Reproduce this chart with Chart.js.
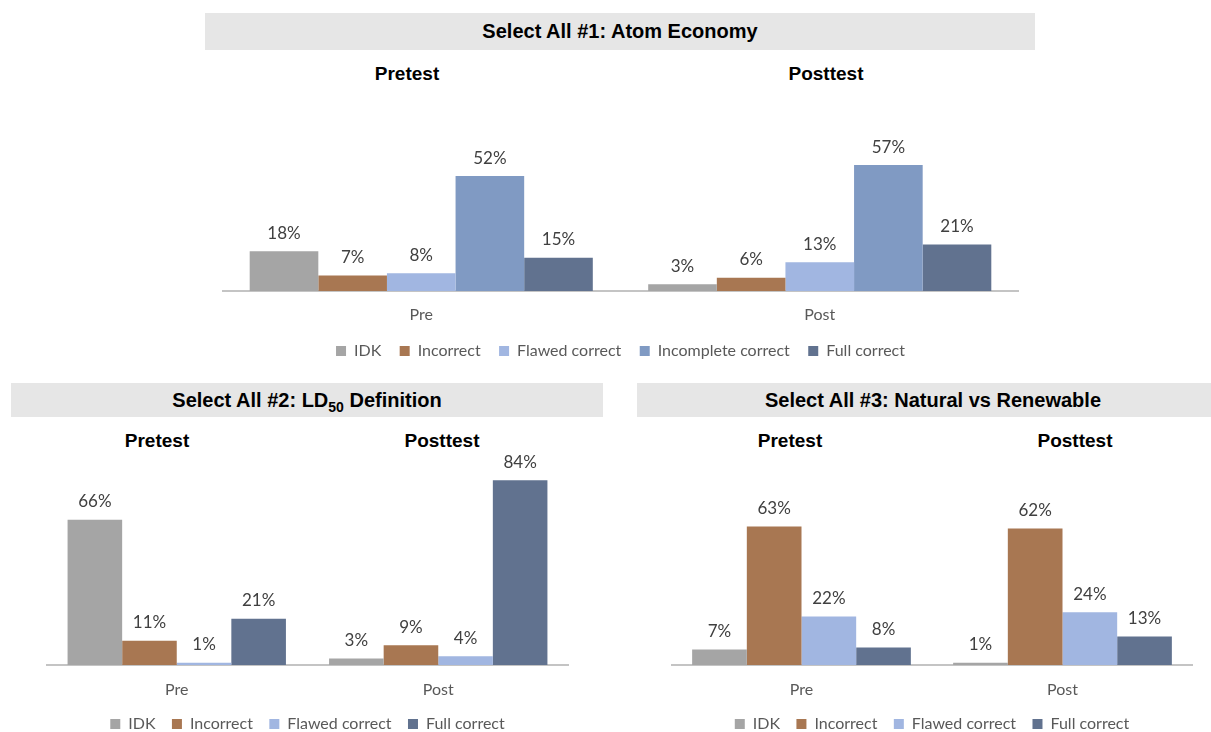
<!DOCTYPE html>
<html lang="en">
<head>
    <meta charset="UTF-8">
    <title>Select All - Pretest vs Posttest</title>
    <script src="https://cdn.jsdelivr.net/npm/chart.js"></script>
    <style>
        * {
            margin: 0;
            padding: 0;
            box-sizing: border-box;
        }

        html, body {
            width: 1211px;
            height: 732px;
            overflow: hidden;
            background: #ffffff;
            font-family: "Liberation Sans", Arial, sans-serif;
        }

        .page {
            position: relative;
            width: 1211px;
            height: 732px;
        }

        /* grey title bars */
        .title-bar {
            position: absolute;
            background: #e6e6e6;
            color: #000;
            font-weight: bold;
            font-size: 20px;
            display: flex;
            align-items: center;
            justify-content: center;
            white-space: nowrap;
        }

        .title-bar sub {
            font-size: 14px;
            vertical-align: -5px;
            line-height: 0;
        }

        .subtitle {
            position: absolute;
            width: 200px;
            margin-left: -100px;
            text-align: center;
            font-weight: bold;
            font-size: 19px;
            color: #000;
            line-height: 22px;
        }

        .chart-box {
            position: absolute;
        }
    </style>
</head>
<body>
<div class="page">

    <!-- Select All #1 -->
    <div class="title-bar" style="left:205px; top:13px; width:830px; height:37px;"><span>Select All #1: Atom Economy</span></div>
    <div class="subtitle" style="left:407px; top:63px;">Pretest</div>
    <div class="subtitle" style="left:826px; top:63px;">Posttest</div>
    <div class="chart-box" style="left:222px; top:120px; width:797px; height:249px;">
        <canvas id="atomChart"></canvas>
    </div>

    <!-- Select All #2 -->
    <div class="title-bar" style="left:11px; top:383px; width:592px; height:34px;"><span>Select All #2: LD<sub>50</sub> Definition</span></div>
    <div class="subtitle" style="left:157px; top:430px;">Pretest</div>
    <div class="subtitle" style="left:442px; top:430px;">Posttest</div>
    <div class="chart-box" style="left:46px; top:440px; width:523px; height:302px;">
        <canvas id="ld50Chart"></canvas>
    </div>

    <!-- Select All #3 -->
    <div class="title-bar" style="left:637px; top:383px; width:592px; height:34px;"><span>Select All #3: Natural vs Renewable</span></div>
    <div class="subtitle" style="left:790px; top:430px;">Pretest</div>
    <div class="subtitle" style="left:1075px; top:430px;">Posttest</div>
    <div class="chart-box" style="left:671px; top:440px; width:522px; height:302px;">
        <canvas id="natChart"></canvas>
    </div>

</div>

<script>
    // categories
    const tests = ['Pre', 'Post'];

    // Select All #1: Atom Economy  [Pre, Post]
    const atomIDK = [18, 3];
    const atomIncorrect = [7, 6];
    const atomFlawed = [8, 13];
    const atomIncomplete = [52, 57];
    const atomFull = [15, 21];

    // Select All #2: LD50 Definition
    const ld50IDK = [66, 3];
    const ld50Incorrect = [11, 9];
    const ld50Flawed = [1, 4];
    const ld50Full = [21, 84];

    // Select All #3: Natural vs Renewable
    const natIDK = [7, 1];
    const natIncorrect = [63, 62];
    const natFlawed = [22, 24];
    const natFull = [8, 13];

    const colors = {
        'IDK': '#a5a5a5',
        'Incorrect': '#a87752',
        'Flawed correct': '#a1b6e1',
        'Incomplete correct': '#809ac3',
        'Full correct': '#61728f'
    };

    Chart.defaults.font.family = 'Lato, "Open Sans", sans-serif';
    Chart.defaults.color = '#595959';

    // value labels above each bar
    const valueLabels = {
        id: 'valueLabels',
        afterDatasetsDraw(chart) {
            const ctx = chart.ctx;
            ctx.save();
            ctx.font = '17px Lato, "Open Sans", sans-serif';
            ctx.fillStyle = '#404040';
            ctx.textAlign = 'center';
            ctx.textBaseline = 'middle';
            chart.data.datasets.forEach((ds, i) => {
                chart.getDatasetMeta(i).data.forEach((bar, j) => {
                    ctx.fillText(ds.data[j] + '%', bar.x, bar.y - 18);
                });
            });
            ctx.restore();
        }
    };

    function makeChart(id, series, opts) {
        const datasets = series.map(s => ({
            label: s[0],
            data: s[1],
            backgroundColor: colors[s[0]],
            borderWidth: 0,
            categoryPercentage: opts.catPct,
            barPercentage: 1
        }));

        return new Chart(document.getElementById(id), {
            type: 'bar',
            data: { labels: tests, datasets: datasets },
            options: {
                responsive: true,
                maintainAspectRatio: false,
                animation: false,
                layout: { padding: { top: opts.padTop, left: 0, right: 0, bottom: 0 } },
                plugins: {
                    legend: {
                        position: 'bottom',
                        labels: {
                            boxWidth: 10,
                            boxHeight: 10,
                            padding: opts.legendPad,
                            font: { size: 16 },
                            color: '#595959'
                        }
                    },
                    tooltip: { enabled: false }
                },
                scales: {
                    x: {
                        grid: { display: false, drawTicks: false },
                        border: { display: true, color: '#c4c4c4', width: 2 },
                        ticks: { padding: opts.tickPad, font: { size: 16 }, color: '#595959' },
                        afterFit: scale => { scale.height = opts.tickPad + 19.2; }
                    },
                    y: {
                        display: false,
                        min: 0,
                        max: opts.max
                    }
                }
            },
            plugins: [valueLabels]
        });
    }

    makeChart('atomChart', [
        ['IDK', atomIDK],
        ['Incorrect', atomIncorrect],
        ['Flawed correct', atomFlawed],
        ['Incomplete correct', atomIncomplete],
        ['Full correct', atomFull]
    ], { catPct: 0.861, max: 60, padTop: 38.4, tickPad: 14.4, legendPad: 18.4 });

    makeChart('ld50Chart', [
        ['IDK', ld50IDK],
        ['Incorrect', ld50Incorrect],
        ['Flawed correct', ld50Flawed],
        ['Full correct', ld50Full]
    ], { catPct: 0.835, max: 90, padTop: 27, tickPad: 15.4, legendPad: 16.4 });

    makeChart('natChart', [
        ['IDK', natIDK],
        ['Incorrect', natIncorrect],
        ['Flawed correct', natFlawed],
        ['Full correct', natFull]
    ], { catPct: 0.838, max: 90, padTop: 27, tickPad: 15.4, legendPad: 16.4 });
</script>
</body>
</html>
